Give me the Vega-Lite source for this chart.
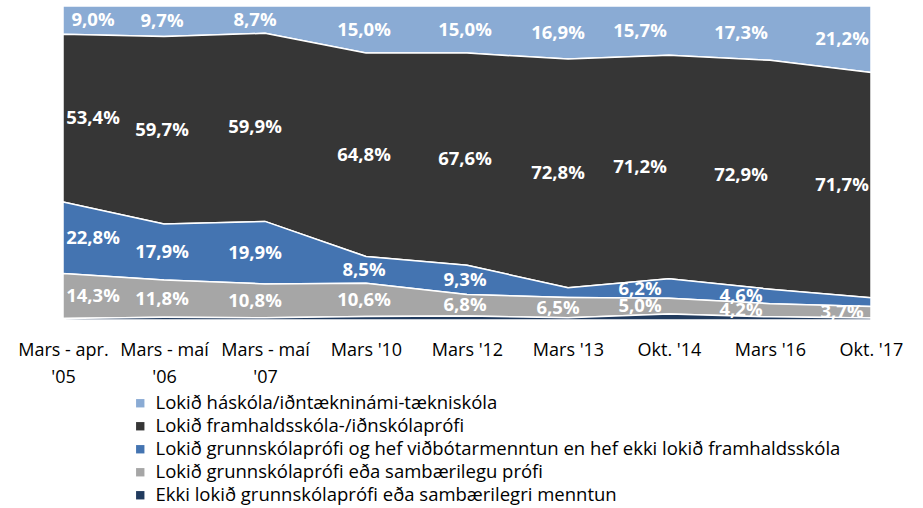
{
  "$schema": "https://vega.github.io/schema/vega-lite/v6.json",
  "width": 808,
  "height": 314,
  "autosize": {"type": "none"},
  "padding": {"left": 63, "top": 6, "right": 52, "bottom": 188},
  "background": "white",
  "config": {"view": {"stroke": null}, "font": "Open Sans"},
  "data": {
    "values": [
      {"date": "Mars - apr. '05", "cat": "Lokið háskóla/iðntækninámi-tækniskóla", "rank": 5, "v": 9.0},
      {"date": "Mars - apr. '05", "cat": "Lokið framhaldsskóla-/iðnskólaprófi", "rank": 4, "v": 53.4},
      {"date": "Mars - apr. '05", "cat": "Lokið grunnskólaprófi og hef viðbótarmenntun en hef ekki lokið framhaldsskóla", "rank": 3, "v": 22.8},
      {"date": "Mars - apr. '05", "cat": "Lokið grunnskólaprófi eða sambærilegu prófi", "rank": 2, "v": 14.3},
      {"date": "Mars - apr. '05", "cat": "Ekki lokið grunnskólaprófi eða sambærilegri menntun", "rank": 1, "v": 0.5},

      {"date": "Mars - maí '06", "cat": "Lokið háskóla/iðntækninámi-tækniskóla", "rank": 5, "v": 9.7},
      {"date": "Mars - maí '06", "cat": "Lokið framhaldsskóla-/iðnskólaprófi", "rank": 4, "v": 59.7},
      {"date": "Mars - maí '06", "cat": "Lokið grunnskólaprófi og hef viðbótarmenntun en hef ekki lokið framhaldsskóla", "rank": 3, "v": 17.9},
      {"date": "Mars - maí '06", "cat": "Lokið grunnskólaprófi eða sambærilegu prófi", "rank": 2, "v": 11.8},
      {"date": "Mars - maí '06", "cat": "Ekki lokið grunnskólaprófi eða sambærilegri menntun", "rank": 1, "v": 0.9},

      {"date": "Mars - maí '07", "cat": "Lokið háskóla/iðntækninámi-tækniskóla", "rank": 5, "v": 8.7},
      {"date": "Mars - maí '07", "cat": "Lokið framhaldsskóla-/iðnskólaprófi", "rank": 4, "v": 59.9},
      {"date": "Mars - maí '07", "cat": "Lokið grunnskólaprófi og hef viðbótarmenntun en hef ekki lokið framhaldsskóla", "rank": 3, "v": 19.9},
      {"date": "Mars - maí '07", "cat": "Lokið grunnskólaprófi eða sambærilegu prófi", "rank": 2, "v": 10.8},
      {"date": "Mars - maí '07", "cat": "Ekki lokið grunnskólaprófi eða sambærilegri menntun", "rank": 1, "v": 0.7},

      {"date": "Mars '10", "cat": "Lokið háskóla/iðntækninámi-tækniskóla", "rank": 5, "v": 15.0},
      {"date": "Mars '10", "cat": "Lokið framhaldsskóla-/iðnskólaprófi", "rank": 4, "v": 64.8},
      {"date": "Mars '10", "cat": "Lokið grunnskólaprófi og hef viðbótarmenntun en hef ekki lokið framhaldsskóla", "rank": 3, "v": 8.5},
      {"date": "Mars '10", "cat": "Lokið grunnskólaprófi eða sambærilegu prófi", "rank": 2, "v": 10.6},
      {"date": "Mars '10", "cat": "Ekki lokið grunnskólaprófi eða sambærilegri menntun", "rank": 1, "v": 1.1},

      {"date": "Mars '12", "cat": "Lokið háskóla/iðntækninámi-tækniskóla", "rank": 5, "v": 15.0},
      {"date": "Mars '12", "cat": "Lokið framhaldsskóla-/iðnskólaprófi", "rank": 4, "v": 67.6},
      {"date": "Mars '12", "cat": "Lokið grunnskólaprófi og hef viðbótarmenntun en hef ekki lokið framhaldsskóla", "rank": 3, "v": 9.3},
      {"date": "Mars '12", "cat": "Lokið grunnskólaprófi eða sambærilegu prófi", "rank": 2, "v": 6.8},
      {"date": "Mars '12", "cat": "Ekki lokið grunnskólaprófi eða sambærilegri menntun", "rank": 1, "v": 1.3},

      {"date": "Mars '13", "cat": "Lokið háskóla/iðntækninámi-tækniskóla", "rank": 5, "v": 16.9},
      {"date": "Mars '13", "cat": "Lokið framhaldsskóla-/iðnskólaprófi", "rank": 4, "v": 72.8},
      {"date": "Mars '13", "cat": "Lokið grunnskólaprófi og hef viðbótarmenntun en hef ekki lokið framhaldsskóla", "rank": 3, "v": 3.1},
      {"date": "Mars '13", "cat": "Lokið grunnskólaprófi eða sambærilegu prófi", "rank": 2, "v": 6.5},
      {"date": "Mars '13", "cat": "Ekki lokið grunnskólaprófi eða sambærilegri menntun", "rank": 1, "v": 0.7},

      {"date": "Okt. '14", "cat": "Lokið háskóla/iðntækninámi-tækniskóla", "rank": 5, "v": 15.7},
      {"date": "Okt. '14", "cat": "Lokið framhaldsskóla-/iðnskólaprófi", "rank": 4, "v": 71.2},
      {"date": "Okt. '14", "cat": "Lokið grunnskólaprófi og hef viðbótarmenntun en hef ekki lokið framhaldsskóla", "rank": 3, "v": 6.2},
      {"date": "Okt. '14", "cat": "Lokið grunnskólaprófi eða sambærilegu prófi", "rank": 2, "v": 5.0},
      {"date": "Okt. '14", "cat": "Ekki lokið grunnskólaprófi eða sambærilegri menntun", "rank": 1, "v": 1.9},

      {"date": "Mars '16", "cat": "Lokið háskóla/iðntækninámi-tækniskóla", "rank": 5, "v": 17.3},
      {"date": "Mars '16", "cat": "Lokið framhaldsskóla-/iðnskólaprófi", "rank": 4, "v": 72.9},
      {"date": "Mars '16", "cat": "Lokið grunnskólaprófi og hef viðbótarmenntun en hef ekki lokið framhaldsskóla", "rank": 3, "v": 4.6},
      {"date": "Mars '16", "cat": "Lokið grunnskólaprófi eða sambærilegu prófi", "rank": 2, "v": 4.2},
      {"date": "Mars '16", "cat": "Ekki lokið grunnskólaprófi eða sambærilegri menntun", "rank": 1, "v": 1.0},

      {"date": "Okt. '17", "cat": "Lokið háskóla/iðntækninámi-tækniskóla", "rank": 5, "v": 21.2},
      {"date": "Okt. '17", "cat": "Lokið framhaldsskóla-/iðnskólaprófi", "rank": 4, "v": 71.7},
      {"date": "Okt. '17", "cat": "Lokið grunnskólaprófi og hef viðbótarmenntun en hef ekki lokið framhaldsskóla", "rank": 3, "v": 2.8},
      {"date": "Okt. '17", "cat": "Lokið grunnskólaprófi eða sambærilegu prófi", "rank": 2, "v": 3.7},
      {"date": "Okt. '17", "cat": "Ekki lokið grunnskólaprófi eða sambærilegri menntun", "rank": 1, "v": 0.6}
    ]
  },
  "encoding": {
    "x": {
      "field": "date",
      "type": "ordinal",
      "sort": ["Mars - apr. '05", "Mars - maí '06", "Mars - maí '07", "Mars '10", "Mars '12", "Mars '13", "Okt. '14", "Mars '16", "Okt. '17"],
      "scale": {"type": "point", "padding": 0},
      "axis": {
        "title": null,
        "domain": false,
        "ticks": false,
        "labelAngle": 0,
        "labelFontSize": 18,
        "labelColor": "#000000",
        "labelPadding": 21,
        "labelBaseline": "top",
        "labelLineHeight": 27,
        "labelOverlap": false,
        "labelBound": false,
        "labelFlush": false,
        "labelExpr": "indexof(datum.label, ' - ') > 0 ? [slice(datum.label, 0, lastindexof(datum.label, ' ')), slice(datum.label, lastindexof(datum.label, ' ') + 1)] : datum.label"
      }
    }
  },
  "layer": [
    {
      "mark": {"type": "area", "interpolate": "linear", "stroke": "white", "strokeWidth": 1.5, "clip": true},
      "encoding": {
        "y": {"field": "v", "type": "quantitative", "stack": "zero", "scale": {"domain": [0, 100], "nice": false}, "axis": null},
        "color": {
          "field": "cat",
          "type": "nominal",
          "scale": {
            "domain": [
              "Lokið háskóla/iðntækninámi-tækniskóla",
              "Lokið framhaldsskóla-/iðnskólaprófi",
              "Lokið grunnskólaprófi og hef viðbótarmenntun en hef ekki lokið framhaldsskóla",
              "Lokið grunnskólaprófi eða sambærilegu prófi",
              "Ekki lokið grunnskólaprófi eða sambærilegri menntun"
            ],
            "range": ["#8AABD4", "#363636", "#4474B1", "#A6A6A6", "#213B5E"]
          },
          "legend": {
            "title": null,
            "orient": "none",
            "legendX": 68,
            "legendY": 388,
            "padding": 0,
            "symbolType": "square",
            "symbolSize": 70,
            "symbolStrokeWidth": 0,
            "labelFontSize": 18.5,
            "labelColor": "#000000",
            "labelLimit": 900,
            "labelOffset": 6,
            "rowPadding": 4
          }
        },
        "order": {"field": "rank", "type": "quantitative"}
      }
    },
    {
      "transform": [
        {"stack": "v", "groupby": ["date"], "sort": [{"field": "rank", "order": "ascending"}], "as": ["v0", "v1"]},
        {"calculate": "(datum.v0 + datum.v1) / 2", "as": "mid"},
        {"calculate": "replace(format(datum.v, '.1f'), '.', ',') + '%'", "as": "label"},
        {"filter": "datum.rank > 1 && !(datum.rank == 3 && (datum.date == \"Mars '13\" || datum.date == \"Okt. '17\"))"}
      ],
      "encoding": {
        "y": {"field": "mid", "type": "quantitative"},
        "text": {"field": "label"}
      },
      "layer": [
        {
          "transform": [{"filter": "datum.date == \"Mars - apr. '05\""}],
          "mark": {"type": "text", "color": "white", "fontWeight": "bold", "fontSize": 18.5, "dx": 30, "clip": true}
        },
        {
          "transform": [{"filter": "datum.date == \"Mars - maí '07\" || datum.date == \"Mars '13\""}],
          "mark": {"type": "text", "color": "white", "fontWeight": "bold", "fontSize": 18.5, "dx": -10, "clip": true}
        },
        {
          "transform": [{"filter": "datum.date == \"Okt. '14\" || datum.date == \"Mars '16\" || datum.date == \"Okt. '17\""}],
          "mark": {"type": "text", "color": "white", "fontWeight": "bold", "fontSize": 18.5, "dx": -29, "clip": true}
        },
        {
          "transform": [{"filter": "datum.date == \"Mars - maí '06\" || datum.date == \"Mars '10\" || datum.date == \"Mars '12\""}],
          "mark": {"type": "text", "color": "white", "fontWeight": "bold", "fontSize": 18.5, "dx": -2, "clip": true}
        }
      ]
    }
  ]
}
